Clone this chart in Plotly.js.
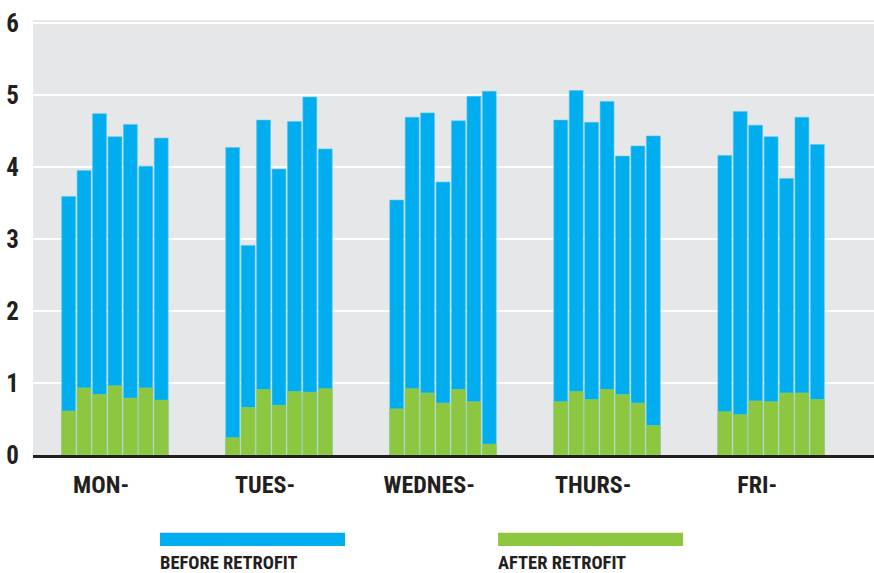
<!DOCTYPE html>
<html>
<head>
<meta charset="utf-8">
<script src="https://cdn.plot.ly/plotly-3.0.1.min.js"></script>
<style>
  html, body { margin: 0; padding: 0; background: #ffffff; }
  #chart { width: 874px; height: 573px; }
</style>
</head>
<body>
<div id="chart"></div>
<script>
// ---- data ----
const days = ["MON-", "TUES-", "WEDNES-", "THURS-", "FRI-"];
const before = [
  [3.59, 3.95, 4.74, 4.42, 4.59, 4.01, 4.40],
  [4.27, 2.91, 4.65, 3.97, 4.63, 4.97, 4.25],
  [3.54, 4.69, 4.75, 3.79, 4.64, 4.98, 5.05],
  [4.65, 5.06, 4.62, 4.91, 4.15, 4.29, 4.43],
  [4.16, 4.77, 4.58, 4.42, 3.84, 4.69, 4.31]
];
const after = [
  [0.61, 0.93, 0.84, 0.96, 0.79, 0.93, 0.76],
  [0.24, 0.66, 0.91, 0.69, 0.88, 0.87, 0.92],
  [0.64, 0.92, 0.86, 0.72, 0.91, 0.74, 0.15],
  [0.74, 0.88, 0.77, 0.91, 0.84, 0.72, 0.41],
  [0.60, 0.56, 0.75, 0.74, 0.86, 0.86, 0.77]
];
const seriesNames = ["BEFORE RETROFIT", "AFTER RETROFIT"];
const yTicks = [0, 1, 2, 3, 4, 5, 6];

// ---- layout helpers ----
const GROUP_STEP = 10.63;   // slots between group starts
const xs = [], yb = [], ya = [];
days.forEach((d, g) => {
  before[g].forEach((v, i) => {
    xs.push(g * GROUP_STEP + i);
    yb.push(v);
    ya.push(after[g][i]);
  });
});
const tickPos = days.map((d, g) => g * GROUP_STEP + 3 - 0.9);

const BLUE = "#00AEEF", GREEN = "#8DC63F", INK = "#231F20";
const FONT = "'Roboto Condensed', 'Liberation Sans Narrow', 'DejaVu Sans Condensed', sans-serif";

const traces = [
  { type: "bar", name: seriesNames[0], x: xs, y: yb, width: 0.9,
    marker: { color: BLUE, line: { color: "#55c6f0", width: 0.6 } }, showlegend: false, hoverinfo: "y" },
  { type: "bar", name: seriesNames[1], x: xs, y: ya, width: 0.9,
    marker: { color: GREEN, line: { color: "#9fd057", width: 0.6 } }, showlegend: false, hoverinfo: "y" }
];

const layout = {
  width: 874, height: 573,
  margin: { l: 33, r: 0, t: 20, b: 118 },
  paper_bgcolor: "#ffffff",
  plot_bgcolor: "#E6E7E8",
  barmode: "overlay",
  bargap: 0,
  font: { family: FONT, color: INK },
  xaxis: {
    range: [-2.31, 52.19],
    tickmode: "array", tickvals: tickPos, ticktext: days,
    tickfont: { family: FONT, size: 24, color: INK, weight: "bold" },
    showgrid: false, zeroline: false,
    showline: true, linecolor: INK, linewidth: 3,
    ticks: "outside", ticklen: 6, tickcolor: "rgba(0,0,0,0)",
    fixedrange: true
  },
  yaxis: {
    range: [0, 6.04],
    tickmode: "array", tickvals: yTicks, ticktext: yTicks.map(String),
    tickfont: { family: FONT, size: 25, color: INK, weight: "bold" },
    showgrid: true, gridcolor: "#ffffff", gridwidth: 2.5,
    zeroline: false, showline: false,
    ticks: "outside", ticklen: 8, tickcolor: "rgba(0,0,0,0)",
    fixedrange: true
  },
  shapes: [
    { type: "rect", xref: "paper", yref: "paper", x0: 0.151, x1: 0.371, y0: -0.209, y1: -0.179,
      fillcolor: BLUE, line: { width: 0 } },
    { type: "rect", xref: "paper", yref: "paper", x0: 0.553, x1: 0.773, y0: -0.209, y1: -0.179,
      fillcolor: GREEN, line: { width: 0 } }
  ],
  annotations: [
    { xref: "paper", yref: "paper", x: 0.149, y: -0.218, xanchor: "left", yanchor: "top",
      text: "<b>" + seriesNames[0] + "</b>", showarrow: false,
      font: { family: FONT, size: 18.5, color: INK } },
    { xref: "paper", yref: "paper", x: 0.551, y: -0.218, xanchor: "left", yanchor: "top",
      text: "<b>" + seriesNames[1] + "</b>", showarrow: false,
      font: { family: FONT, size: 18.5, color: INK } }
  ]
};

Plotly.newPlot("chart", traces, layout, { displayModeBar: false, staticPlot: true });
</script>
</body>
</html>
